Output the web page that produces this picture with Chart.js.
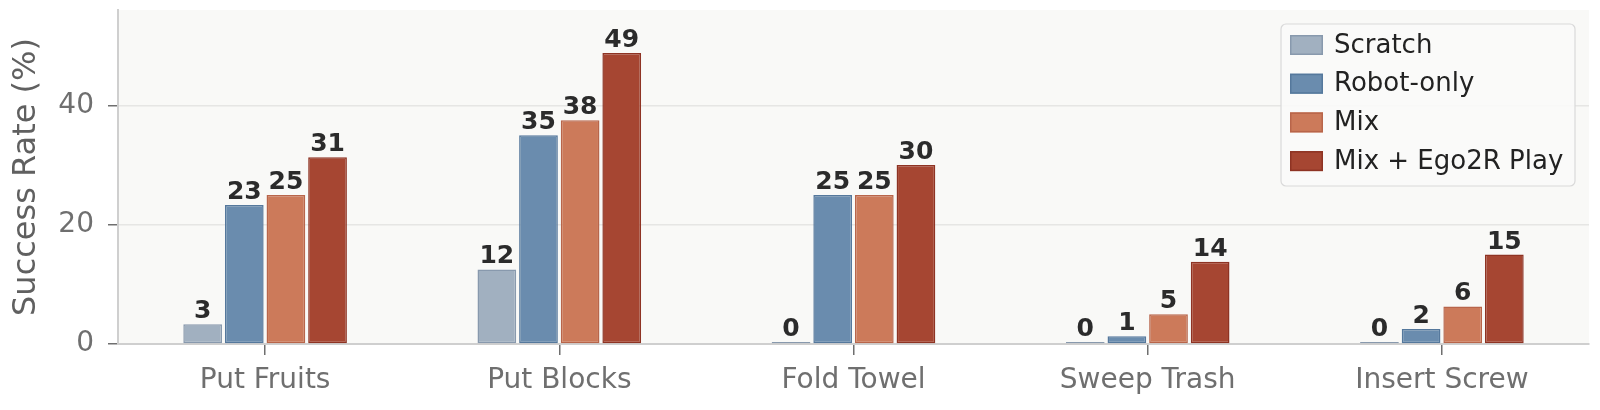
<!DOCTYPE html>
<html>
<head>
<meta charset="utf-8">
<script src="https://cdn.jsdelivr.net/npm/chart.js@4.4.1/dist/chart.umd.min.js"></script>
<style>
  html, body { margin: 0; padding: 0; background: #ffffff; }
  #wrap { width: 1600px; height: 410px; position: relative; }
</style>
</head>
<body>
<div id="wrap"><canvas id="c"></canvas></div>
<script>
const categories = ["Put Fruits", "Put Blocks", "Fold Towel", "Sweep Trash", "Insert Screw"];
const seriesNames = ["Scratch", "Robot-only", "Mix", "Mix + Ego2R Play"];
const scratch   = [3.3, 12.5, 0, 0, 0];
const robotOnly = [23.3, 35.0, 25.0, 1.3, 2.5];
const mix       = [25.0, 37.5, 25.0, 5.0, 6.3];
const mixEgo    = [31.3, 48.8, 30.0, 13.8, 15.0];
const yTicks = [0, 20, 40];
const yMax = 56;

const fills   = ["#a1b0c0", "#6a8cae", "#cc7a5a", "#a64632"];
const borders = ["#8899ad", "#55789c", "#b8654a", "#8e3323"];

// round half to even (as in the reference labels)
function roundEven(v) {
  const f = Math.floor(v), d = v - f;
  if (Math.abs(d - 0.5) < 1e-9) return (f % 2 === 0) ? f : f + 1;
  return Math.round(v);
}

const FONT = "'DejaVu Sans', sans-serif";

const bgPlugin = {
  id: 'plotBg',
  beforeDraw(chart) {
    const {ctx, chartArea: a} = chart;
    ctx.save();
    ctx.fillStyle = '#f9f9f7';
    ctx.fillRect(a.left, a.top, a.right - a.left, a.bottom - a.top);
    ctx.restore();
  }
};

const labelPlugin = {
  id: 'barLabels',
  afterDatasetsDraw(chart) {
    const ctx = chart.ctx;
    ctx.save();
    ctx.font = "bold 25px " + FONT;
    ctx.fillStyle = '#2b2b2b';
    ctx.textAlign = 'center';
    ctx.textBaseline = 'alphabetic';
    chart.data.datasets.forEach((ds, i) => {
      const meta = chart.getDatasetMeta(i);
      meta.data.forEach((bar, j) => {
        const v = ds.data[j];
        ctx.fillText(String(roundEven(v)), bar.x, Math.min(bar.y, bar.base) - 6);
      });
    });
    ctx.restore();
  }
};

const legendPlugin = {
  id: 'innerLegend',
  afterDraw(chart) {
    const {ctx, chartArea: a} = chart;
    const w = 294, h = 162;
    const x = a.right - 14 - w, y = a.top + 14;
    ctx.save();
    ctx.beginPath();
    ctx.roundRect(x, y, w, h, 5);
    ctx.fillStyle = 'rgba(250,250,248,0.9)';
    ctx.fill();
    ctx.lineWidth = 1.2;
    ctx.strokeStyle = '#d9d9d9';
    ctx.stroke();
    ctx.font = "26px " + FONT;
    ctx.textBaseline = 'middle';
    ctx.textAlign = 'left';
    chart.data.datasets.forEach((ds, i) => {
      const cy = y + 21 + i * 38.7;
      ctx.fillStyle = ds.backgroundColor;
      ctx.fillRect(x + 9, cy - 10, 33, 20);
      ctx.lineWidth = 1.5;
      ctx.strokeStyle = ds.borderColor;
      ctx.strokeRect(x + 9.75, cy - 9.25, 31.5, 18.5);
      ctx.fillStyle = '#222222';
      ctx.fillText(ds.label, x + 53, cy + 1);
    });
    ctx.restore();
  }
};

const seriesData = [scratch, robotOnly, mix, mixEgo];

new Chart(document.getElementById('c'), {
  type: 'bar',
  data: {
    labels: categories,
    datasets: seriesNames.map((n, i) => ({
      label: n,
      data: seriesData[i],
      backgroundColor: fills[i],
      borderColor: borders[i],
      borderWidth: 1.5,
      borderSkipped: false,
      minBarLength: 2,
      categoryPercentage: 0.566,
      barPercentage: 0.93
    }))
  },
  options: {
    responsive: true,
    maintainAspectRatio: false,
    animation: false,
    devicePixelRatio: 1,
    layout: { padding: { left: 0, right: 11, top: 10, bottom: 0 } },
    plugins: {
      legend: { display: false },
      tooltip: { enabled: false }
    },
    scales: {
      x: {
        offset: true,
        grid: {
          offset: false,
          drawOnChartArea: false,
          drawTicks: true,
          tickLength: 11,
          tickColor: '#6f6f6f',
          lineWidth: 1.5
        },
        border: { display: true, color: '#cfcfcf', width: 2 },
        ticks: {
          color: '#6f6f6f',
          font: { family: FONT, size: 28 },
          padding: 9,
          maxRotation: 0,
          autoSkip: false
        },
        afterFit(scale) { scale.height = 66; scale.paddingLeft = 0; scale.paddingRight = 0; }
      },
      y: {
        min: 0,
        max: yMax,
        afterBuildTicks(scale) { scale.ticks = yTicks.map(v => ({ value: v })); },
        grid: {
          color: '#e6e6e4',
          lineWidth: 1.5,
          drawTicks: true,
          tickLength: 10,
          tickColor: '#6f6f6f'
        },
        border: { display: true, color: '#cfcfcf', width: 2 },
        ticks: {
          color: '#6f6f6f',
          font: { family: FONT, size: 28 },
          padding: 14,
          includeBounds: false
        },
        title: {
          display: true,
          text: 'Success Rate (%)',
          color: '#606060',
          font: { family: FONT, size: 32 },
          padding: { top: 7, bottom: 0 }
        },
        afterFit(scale) { scale.width = 118; scale.paddingTop = 0; scale.paddingBottom = 0; }
      }
    }
  },
  plugins: [bgPlugin, labelPlugin, legendPlugin]
});
</script>
</body>
</html>
